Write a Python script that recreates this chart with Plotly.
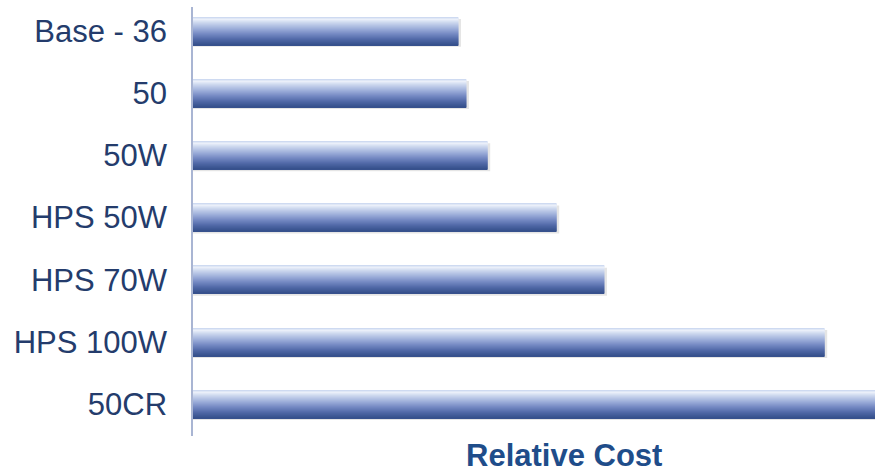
import plotly.graph_objects as go

categories = ["Base - 36", "50", "50W", "HPS 50W", "HPS 70W", "HPS 100W", "50CR"]
relative_cost = [1.00, 1.03, 1.11, 1.37, 1.55, 2.38, 2.57]
axis_title = "Relative Cost"

# gradient stops (fraction from top of bar, colour)
stops = [(0.0, (197, 211, 238)), (0.08, (236, 241, 250)), (0.2, (204, 215, 238)),
         (0.4, (160, 177, 219)), (0.6, (118, 138, 196)), (0.8, (80, 104, 167)),
         (1.0, (52, 79, 138))]

def color_at(t):
    for (t0, c0), (t1, c1) in zip(stops[:-1], stops[1:]):
        if t0 <= t <= t1:
            f = (t - t0) / (t1 - t0) if t1 > t0 else 0
            c = [round(a + (b - a) * f) for a, b in zip(c0, c1)]
            return f"rgb({c[0]},{c[1]},{c[2]})"
    c = stops[-1][1]
    return f"rgb({c[0]},{c[1]},{c[2]})"

fig = go.Figure()
bar_w = 0.45
n = 28
slice_w = bar_w / n

# faint shadow beneath
fig.add_trace(go.Bar(y=categories, x=[v + 0.01 for v in relative_cost], orientation="h",
                     offset=-bar_w / 2 + 0.03, width=bar_w,
                     marker=dict(color="rgba(0,0,0,0.10)", line=dict(width=0)),
                     hoverinfo="skip", showlegend=False))
for i in range(n):
    t = (i + 0.5) / n
    fig.add_trace(go.Bar(y=categories, x=relative_cost, orientation="h",
                         offset=-bar_w / 2 + i * slice_w, width=slice_w * 1.3,
                         marker=dict(color=color_at(t), line=dict(width=0)),
                         hoverinfo="skip", showlegend=False))

fig.update_layout(
    width=875, height=472,
    margin=dict(l=193, r=0, t=7, b=36),
    barmode="overlay",
    plot_bgcolor="white", paper_bgcolor="white",
    showlegend=False,
    xaxis=dict(range=[0, 2.57], showgrid=False, zeroline=False, showline=False,
               showticklabels=False, ticks=""),
    yaxis=dict(type="category", categoryarray=categories, range=[6.511, -0.386],
               showgrid=False, zeroline=False, showline=True, linecolor="#a9b5d3", linewidth=1.5,
               ticks="", ticklabelstandoff=18,
               tickfont=dict(family="Liberation Sans, Arial, sans-serif", size=31, color="#243c6c")),
    annotations=[dict(text=f"<b>{axis_title}</b>", x=0.544, xref="paper", y=-0.0443, yref="paper",
                      xanchor="center", yanchor="middle", showarrow=False,
                      font=dict(family="Liberation Sans, Arial, sans-serif", size=31, color="#1f4d8a"))],
)

fig.write_html("out.html", config={"displayModeBar": False},
               post_script="document.body.style.margin='0';")
